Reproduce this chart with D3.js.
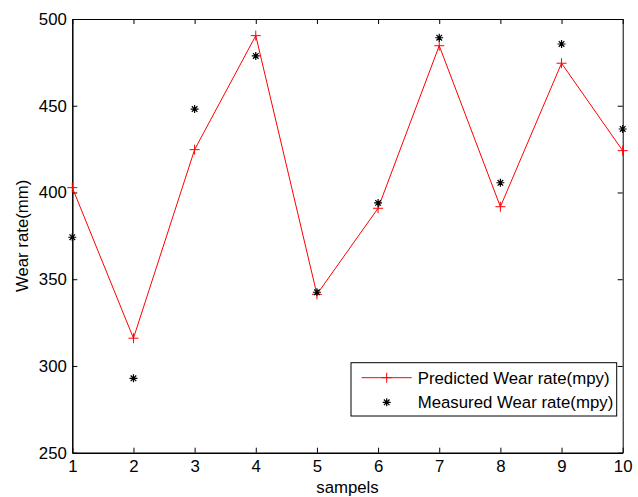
<!DOCTYPE html>
<html>
<head>
<meta charset="utf-8">
<script src="https://cdn.jsdelivr.net/npm/d3@7"></script>
<style>
  body { margin: 0; background: #fff; }
  svg { display: block; font-family: "Liberation Sans", Arial, sans-serif; }
  .axis text { font-size: 16.8px; fill: #000; }
  .axis path, .axis line { stroke: #000; }
</style>
</head>
<body>
<div id="chart"></div>
<script>
// data
var samples = [1, 2, 3, 4, 5, 6, 7, 8, 9, 10];
var predicted = [402.8, 316, 424.7, 490.4, 341.3, 390.9, 484.6, 391.8, 474.5, 424.1];
var measured = [374.2, 292.9, 448.1, 478.7, 342.5, 394, 489.2, 405.6, 485.6, 436.6];
var yTicks = [250, 300, 350, 400, 450, 500];
var legendLabels = ["Predicted Wear rate(mpy)", "Measured Wear rate(mpy)"];

var width = 638,
    height = 497,
    fontSize = '16.8px',
    margins = { top: 19, right: 15.3, bottom: 44.3, left: 72.3 };

var svg = d3.select('#chart').append('svg')
  .attr('width', width)
  .attr('height', height);

var xScale = d3.scaleLinear()
  .domain([1, 10])
  .range([margins.left, width - margins.right]);

var yScale = d3.scaleLinear()
  .domain([250, 500])
  .range([height - margins.bottom, margins.top]);

// axes, ticks pointing inward like matlab
svg.append('g')
  .attr('class', 'axis')
  .attr('transform', 'translate(0,' + (height - margins.bottom) + ')')
  .call(d3.axisBottom(xScale).tickValues(samples).tickFormat(d3.format('d'))
    .tickSizeInner(-5).tickSizeOuter(0).tickPadding(7))
  .select('.domain').attr('stroke-width', 1.5);

svg.append('g')
  .attr('class', 'axis')
  .attr('transform', 'translate(' + margins.left + ',0)')
  .call(d3.axisLeft(yScale).tickValues(yTicks)
    .tickSizeInner(-5).tickSizeOuter(0).tickPadding(5.5))
  .select('.domain').attr('stroke-width', 1.5);

svg.append('g')
  .attr('class', 'axis')
  .attr('transform', 'translate(0,' + margins.top + ')')
  .call(d3.axisTop(xScale).tickValues(samples).tickFormat('')
    .tickSizeInner(-5).tickSizeOuter(0));

svg.append('g')
  .attr('class', 'axis')
  .attr('transform', 'translate(' + (width - margins.right) + ',0)')
  .call(d3.axisRight(yScale).tickValues(yTicks).tickFormat('')
    .tickSizeInner(-5).tickSizeOuter(0));

// axis labels
svg.append('text')
  .attr('x', (xScale(1) + xScale(10)) / 2)
  .attr('y', 493)
  .attr('text-anchor', 'middle')
  .style('font-size', fontSize)
  .text('sampels');

svg.append('text')
  .attr('transform', 'translate(28,' + ((yScale(250) + yScale(500)) / 2) + ') rotate(-90)')
  .attr('text-anchor', 'middle')
  .style('font-size', fontSize)
  .text('Wear rate(mm)');

var plusPath = function(x, y, r) {
  return 'M' + (x - r) + ',' + y + 'H' + (x + r) + 'M' + x + ',' + (y - r) + 'V' + (y + r);
};
var starPath = function(x, y, r) {
  var d = r * 0.7;
  return plusPath(x, y, r) +
    'M' + (x - d) + ',' + (y - d) + 'L' + (x + d) + ',' + (y + d) +
    'M' + (x - d) + ',' + (y + d) + 'L' + (x + d) + ',' + (y - d);
};

// predicted line
var line = d3.line()
  .x(function(d, i) { return xScale(samples[i]); })
  .y(function(d) { return yScale(d); });

svg.append('path')
  .attr('d', line(predicted))
  .attr('fill', 'none')
  .attr('stroke', '#ff0000')
  .attr('stroke-width', 1);

svg.append('g').selectAll('path')
  .data(predicted)
  .enter().append('path')
  .attr('d', function(d, i) { return plusPath(xScale(samples[i]), yScale(d), 5); })
  .attr('stroke', '#ff0000')
  .attr('stroke-width', 1);

// measured points
svg.append('g').selectAll('path')
  .data(measured)
  .enter().append('path')
  .attr('d', function(d, i) { return starPath(xScale(samples[i]), yScale(d), 4); })
  .attr('stroke', '#000')
  .attr('stroke-width', 1.2);

// legend
var legend = svg.append('g');
legend.append('rect')
  .attr('x', 351).attr('y', 362.7)
  .attr('width', 265.7).attr('height', 53.3)
  .attr('fill', '#fff').attr('stroke', '#000').attr('stroke-width', 1);

legend.append('line')
  .attr('x1', 361.7).attr('x2', 411.7)
  .attr('y1', 377.7).attr('y2', 377.7)
  .attr('stroke', '#ff0000');
legend.append('path')
  .attr('d', plusPath(386.7, 377.7, 5))
  .attr('stroke', '#ff0000');
legend.append('path')
  .attr('d', starPath(386.7, 402.3, 4))
  .attr('stroke', '#000').attr('stroke-width', 1.2);

legend.selectAll('text')
  .data(legendLabels)
  .enter().append('text')
  .attr('x', 417.7)
  .attr('y', function(d, i) { return 377.7 + i * 24.6; })
  .attr('dy', '0.35em')
  .style('font-size', fontSize)
  .text(function(d) { return d; });
</script>
</body>
</html>
